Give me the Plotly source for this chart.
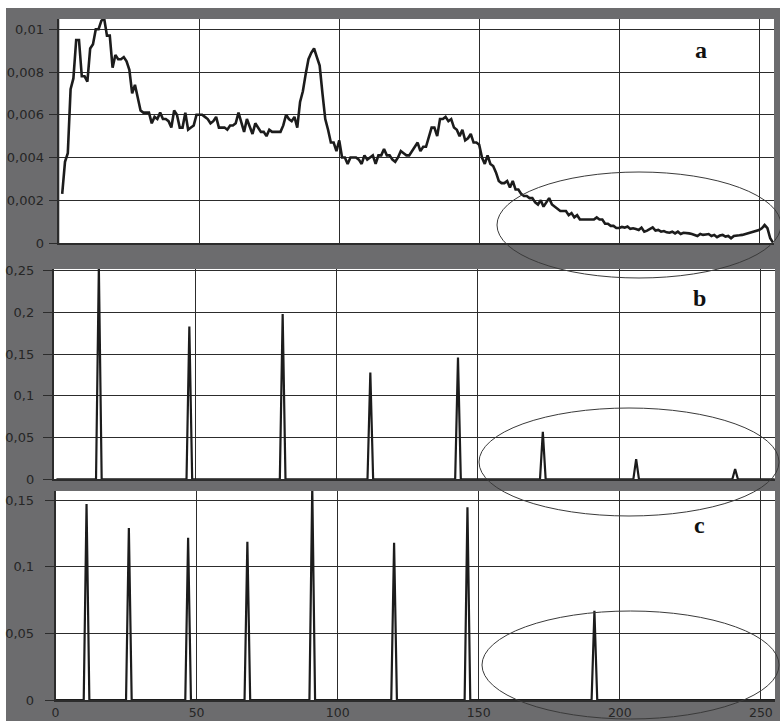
import plotly.graph_objects as go

W, H = 780, 721

# ---------------- data ----------------
# panel a: histogram (bins 1..255)
a_x = list(range(1, 256))
a_y = [
    0.0023, 0.0038, 0.0042, 0.0072, 0.0077, 0.0095, 0.0095, 0.0078, 0.0078, 0.00755,
    0.0091, 0.0093, 0.0100, 0.0100, 0.0104, 0.0105, 0.0097, 0.0097, 0.0082, 0.0088,
    0.0086, 0.0086, 0.0087, 0.0085, 0.0081, 0.0070, 0.0074, 0.0068, 0.0062, 0.0061,
    0.0061, 0.0061, 0.0056, 0.0059, 0.0058, 0.0061, 0.0058, 0.0058, 0.0057, 0.0054,
    0.0062, 0.0060, 0.0054, 0.0054, 0.0061, 0.0053, 0.0054, 0.0055, 0.0060, 0.0060,
    0.0060, 0.0059, 0.0058, 0.0056, 0.0057, 0.0059, 0.0054, 0.0054, 0.0054, 0.0053,
    0.0055, 0.0055, 0.0056, 0.0061, 0.0056, 0.0052, 0.0058, 0.0054, 0.0051, 0.0056,
    0.0054, 0.0052, 0.0052, 0.0050, 0.0053, 0.0052, 0.0052, 0.0052, 0.0052, 0.0055,
    0.0060, 0.0058, 0.0057, 0.0059, 0.0054, 0.0066, 0.0071, 0.0079, 0.0086, 0.0089,
    0.0091, 0.0087, 0.0083, 0.0070, 0.0058, 0.0053, 0.0047, 0.0047, 0.0043, 0.0048,
    0.0040, 0.0040, 0.0037, 0.0040, 0.0040, 0.0040, 0.0039, 0.0037, 0.0041, 0.0039,
    0.0040, 0.0041, 0.0037, 0.0041, 0.0041, 0.0044, 0.0041, 0.0041, 0.0039, 0.0038,
    0.0040, 0.0043, 0.0042, 0.0041, 0.0041, 0.0043, 0.0045, 0.0047, 0.0043, 0.0045,
    0.0045, 0.0050, 0.0054, 0.0054, 0.0050, 0.0058, 0.0058, 0.0059, 0.0057, 0.0058,
    0.0054, 0.0053, 0.0050, 0.0053, 0.0048, 0.0049, 0.0051, 0.0047, 0.0047, 0.0046,
    0.0040, 0.0037, 0.0041, 0.0037, 0.0036, 0.0033, 0.0029, 0.0028, 0.0028, 0.0029,
    0.0026, 0.0029, 0.0025, 0.0025, 0.0023, 0.0022, 0.0022, 0.0021, 0.0021, 0.0019,
    0.0018, 0.0020, 0.0017, 0.0019, 0.0021, 0.0018, 0.0017, 0.0016, 0.0015, 0.0015,
    0.0015, 0.0013, 0.0014, 0.0012, 0.0013, 0.0011, 0.0011, 0.0011, 0.0011, 0.0011,
    0.0011, 0.0012, 0.0011, 0.0011, 0.0009, 0.0009, 0.0008, 0.0008, 0.0007, 0.0007,
    0.00075, 0.00072, 0.00077, 0.00066, 0.00069, 0.00065, 0.00061, 0.00072, 0.00053, 0.00058,
    0.00065, 0.00073, 0.00058, 0.00061, 0.00053, 0.00056, 0.00050, 0.00048, 0.00053, 0.00045,
    0.00053, 0.00042, 0.00048, 0.00048, 0.00045, 0.00042, 0.00038, 0.00033, 0.00042, 0.00038,
    0.00040, 0.00042, 0.00033, 0.00038, 0.00027, 0.00035, 0.00038, 0.00030, 0.00033, 0.00022,
    0.00033, 0.00033, 0.00036, 0.00038, 0.00042, 0.00045, 0.00048, 0.00055, 0.00058, 0.00061,
    0.00069, 0.00084, 0.00069, 0.00022, 0.00002,
]
assert len(a_x) == len(a_y)

# panel b: sparse histogram peaks (bin, value)
b_bins = [16, 48, 81, 112, 143, 173, 206, 241]
b_vals = [0.255, 0.183, 0.198, 0.128, 0.146, 0.057, 0.024, 0.0124]

# panel c: sparse histogram peaks (bin, value)
c_bins = [11, 26, 47, 68, 91, 120, 146, 191]
c_vals = [0.147, 0.129, 0.1217, 0.1187, 0.16, 0.118, 0.1445, 0.067]

x_ticks = [0, 50, 100, 150, 200, 250]
a_ticks = [0, 0.002, 0.004, 0.006, 0.008, 0.01]
a_ticktext = ["0", "0,002", "0,004", "0,006", "0,008", "0,01"]
b_ticks = [0, 0.05, 0.1, 0.15, 0.2, 0.25]
b_ticktext = ["0", "0,05", "0,1", "0,15", "0,2", "0,25"]
c_ticks = [0, 0.05, 0.1, 0.15]
c_ticktext = ["0", "0,05", "0,1", "0,15"]

# build full 256-bin arrays for b and c
b_x = list(range(1, 256))
b_y = [0.0] * len(b_x)
for k, v in zip(b_bins, b_vals):
    b_y[b_x.index(k)] = v
c_x = list(range(0, 256))
c_y = [0.0] * len(c_x)
for k, v in zip(c_bins, c_vals):
    c_y[c_x.index(k)] = v

# ---------------- layout helpers ----------------
def fx(px):
    return px / W

def fy(py):
    return 1 - py / H

GRID = "#2c2c2c"
LINE = "#1c1c1c"
TICKFONT = dict(family="DejaVu Sans", size=13, color="#262626")
XTICKFONT = dict(family="DejaVu Sans", size=12.5, color="#262626")

fig = go.Figure()
fig.add_trace(go.Scatter(x=a_x, y=a_y, mode="lines", line=dict(color=LINE, width=2.6),
                         xaxis="x", yaxis="y", showlegend=False))
fig.add_trace(go.Scatter(x=b_x, y=b_y, mode="lines", line=dict(color=LINE, width=2.2),
                         xaxis="x2", yaxis="y2", showlegend=False))
fig.add_trace(go.Scatter(x=c_x, y=c_y, mode="lines", line=dict(color=LINE, width=2.2),
                         xaxis="x3", yaxis="y3", showlegend=False))

def xax(dom, rng, labels):
    return dict(domain=[fx(dom[0]), fx(dom[1])], range=rng, tickvals=x_ticks,
                showgrid=True, gridcolor=GRID, gridwidth=1, zeroline=False,
                showline=True, linecolor=GRID, linewidth=1.5,
                ticks="", showticklabels=labels, tickfont=XTICKFONT,
                ticklabelstandoff=0, automargin=False, fixedrange=True)

def yax(dom, rng, tv, tt, anchor, standoff):
    return dict(domain=[fy(dom[1]), fy(dom[0])], range=rng, tickvals=tv, ticktext=tt,
                showgrid=True, gridcolor=GRID, gridwidth=1, zeroline=False,
                showline=True, linecolor=GRID, linewidth=1.5,
                ticks="outside", ticklen=9, tickcolor=GRID, tickwidth=1,
                tickfont=TICKFONT, ticklabelstandoff=standoff,
                anchor=anchor, automargin=False, fixedrange=True)

fig.update_layout(
    width=W, height=H,
    margin=dict(l=0, r=0, t=0, b=0),
    paper_bgcolor="#6c6c6e",
    plot_bgcolor="white",
    xaxis=xax((59.4, 774), [0, 255.35], False) | dict(anchor="y"),
    yaxis=yax((19, 243), [0, 0.01048], a_ticks, a_ticktext, "x", 2),
    xaxis2=xax((53.6, 775), [0, 255.1], False) | dict(anchor="y2"),
    yaxis2=yax((269, 479.3), [0, 0.2520], b_ticks, b_ticktext, "x2", 6),
    xaxis3=xax((55.5, 775), [0, 255], True) | dict(anchor="y3"),
    yaxis3=yax((491, 700), [0, 0.15675], c_ticks, c_ticktext, "x3", 8),
)

# white strips at top and left edge of the picture
fig.add_shape(type="rect", xref="paper", yref="paper", x0=0, x1=1, y0=fy(8), y1=1,
              fillcolor="white", line=dict(width=0), layer="below")
fig.add_shape(type="rect", xref="paper", yref="paper", x0=0, x1=fx(6), y0=0, y1=1,
              fillcolor="white", line=dict(width=0), layer="below")

# ellipses marking the tail regions
for (cx, cy, ax_, by) in [(639, 225, 142, 53), (629, 462, 150, 54), (630.5, 665, 148.5, 54)]:
    fig.add_shape(type="circle", xref="paper", yref="paper",
                  x0=fx(cx - ax_), x1=fx(cx + ax_), y0=fy(cy + by), y1=fy(cy - by),
                  line=dict(color="#3a3a3a", width=1), layer="above")

# panel letters
for txt, px, py in [("a", 701, 50), ("b", 699, 298), ("c", 699, 525)]:
    fig.add_annotation(text=f"<b>{txt}</b>", xref="paper", yref="paper",
                       x=fx(px), y=fy(py), showarrow=False, xanchor="center", yanchor="middle",
                       font=dict(family="Liberation Serif", size=24, color="#111111"))

fig.write_html(
    "out.html",
    config={"displayModeBar": False},
    post_script="document.body.style.margin='0';document.body.style.overflow='hidden';",
)
